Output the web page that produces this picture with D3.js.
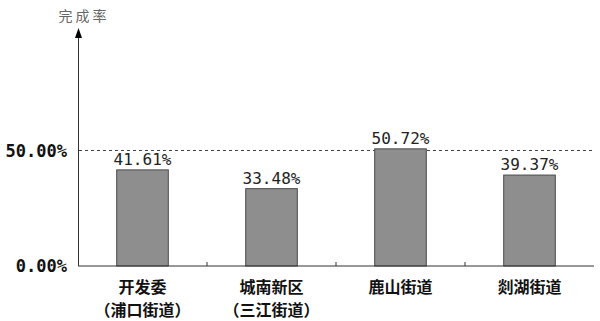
<!DOCTYPE html>
<html>
<head>
<meta charset="utf-8">
<script src="https://cdn.jsdelivr.net/npm/d3@7"></script>
<style>
  body { margin: 0; background: #fff; }
  svg { display: block; }
</style>
</head>
<body>
<div id="chart"></div>
<script>
const categories = [["开发委", "（浦口街道）"], ["城南新区", "（三江街道）"], ["鹿山街道"], ["剡湖街道"]];
const values = [41.61, 33.48, 50.72, 39.37];
const yTicks = [0, 50];
const refLine = 50;

const W = 600, H = 321;
const svg = d3.select("#chart").append("svg").attr("width", W).attr("height", H);

const x = d3.scaleBand().domain(d3.range(categories.length)).range([78, 594]).paddingInner(0.6).paddingOuter(0.3);
const y = d3.scaleLinear().domain([0, 50]).range([266, 150.5]);

// reference dashed line
svg.append("line")
  .attr("x1", 79).attr("x2", 593)
  .attr("y1", y(refLine)).attr("y2", y(refLine))
  .attr("stroke", "#444").attr("stroke-width", 1)
  .attr("stroke-dasharray", "3,3");

// bars
svg.selectAll("rect.bar")
  .data(values)
  .enter().append("rect")
  .attr("class", "bar")
  .attr("x", (d, i) => x(i))
  .attr("width", x.bandwidth())
  .attr("y", d => y(d))
  .attr("height", d => y(0) - y(d))
  .attr("fill", "#8e8e8e")
  .attr("stroke", "#4a4a4a")
  .attr("stroke-width", 1);

// value labels
svg.selectAll("text.val")
  .data(values)
  .enter().append("text")
  .attr("class", "val")
  .attr("x", (d, i) => x(i) + x.bandwidth() / 2)
  .attr("y", d => y(d) - 5)
  .attr("text-anchor", "middle")
  .attr("font-family", "DejaVu Sans Mono, monospace")
  .attr("font-size", "16px")
  .attr("fill", "#222")
  .text(d => d.toFixed(2) + "%");

// baseline + ticks between bands
svg.append("line")
  .attr("x1", 78).attr("x2", 594)
  .attr("y1", y(0)).attr("y2", y(0))
  .attr("stroke", "#333").attr("stroke-width", 1.2);

svg.selectAll("line.tick")
  .data(d3.range(1, categories.length))
  .enter().append("line")
  .attr("class", "tick")
  .attr("x1", i => 78 + i * (516 / categories.length))
  .attr("x2", i => 78 + i * (516 / categories.length))
  .attr("y1", y(0)).attr("y2", y(0) - 4)
  .attr("stroke", "#333");

// y axis with arrow
svg.append("line")
  .attr("x1", 78.5).attr("x2", 78.5)
  .attr("y1", y(0)).attr("y2", 36)
  .attr("stroke", "#333").attr("stroke-width", 1);

svg.append("path")
  .attr("d", "M78.5,28 L82,38 L75,38 Z")
  .attr("fill", "#000");

// y tick labels
svg.selectAll("text.ytick")
  .data(yTicks)
  .enter().append("text")
  .attr("class", "ytick")
  .attr("x", 67)
  .attr("y", d => y(d) + 6)
  .attr("text-anchor", "end")
  .attr("font-family", "DejaVu Sans Mono, monospace")
  .attr("font-weight", "bold")
  .attr("font-size", "17px")
  .attr("fill", "#111")
  .text(d => d.toFixed(2) + "%");

// axis title
svg.append("text")
  .attr("x", 84)
  .attr("y", 21)
  .attr("text-anchor", "middle")
  .attr("font-family", "Noto Sans CJK SC, sans-serif")
  .attr("font-size", "14px")
  .attr("letter-spacing", "3px")
  .attr("fill", "#666")
  .text("完成率");

// category labels, one text per line
categories.forEach((lines, i) => {
  svg.selectAll(null)
    .data(lines)
    .enter().append("text")
    .attr("class", "cat")
    .attr("x", x(i) + x.bandwidth() / 2)
    .attr("y", (d, j) => 293 + j * 23)
    .attr("text-anchor", "middle")
    .attr("font-family", "Noto Sans CJK SC, sans-serif")
    .attr("font-weight", "bold")
    .attr("font-size", "16px")
    .attr("fill", "#111")
    .text(d => d);
});
</script>
</body>
</html>
